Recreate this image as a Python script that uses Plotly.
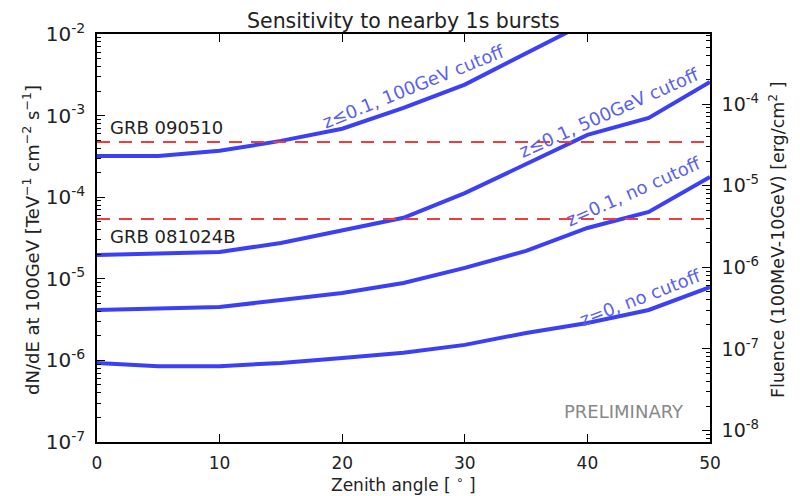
import plotly.graph_objects as go

zenith = [0, 5, 10, 15, 20, 25, 30, 35, 40, 45, 50]
z01_100gev = [3.2e-4, 3.2e-4, 3.7e-4, 4.9e-4, 6.9e-4, 1.24e-3, 2.4e-3, 5.7e-3, 1.4e-2, None, None]
z01_500gev = [1.96e-5, 2.05e-5, 2.13e-5, 2.75e-5, 3.96e-5, 5.6e-5, 1.12e-4, 2.55e-4, 5.8e-4, 9.35e-4, 2.58e-3]
z01_nocut = [4.15e-6, 4.3e-6, 4.5e-6, 5.5e-6, 6.7e-6, 8.9e-6, 1.36e-5, 2.2e-5, 4.2e-5, 6.6e-5, 1.77e-4]
z0_nocut = [9.3e-7, 8.5e-7, 8.5e-7, 9.3e-7, 1.07e-6, 1.24e-6, 1.55e-6, 2.17e-6, 2.87e-6, 4.15e-6, 7.9e-6]

grb_names = ["GRB 090510", "GRB 081024B"]
grb_levels = [4.74e-4, 5.4e-5]

curve_labels = ["z≤0.1, 100GeV cutoff", "z≤0.1, 500GeV cutoff", "z=0.1, no cutoff", "z=0, no cutoff"]
x_ticks = [0, 10, 20, 30, 40, 50]
left_ticks = [1e-7, 1e-6, 1e-5, 1e-4, 1e-3, 1e-2]
left_text = ["10<sup>-7</sup>", "10<sup>-6</sup>", "10<sup>-5</sup>", "10<sup>-4</sup>", "10<sup>-3</sup>", "10<sup>-2</sup>"]
right_ticks = [1e-8, 1e-7, 1e-6, 1e-5, 1e-4]
right_text = ["10<sup>-8</sup>", "10<sup>-7</sup>", "10<sup>-6</sup>", "10<sup>-5</sup>", "10<sup>-4</sup>"]

FONT = "DejaVu Sans"
LINE = "rgb(60,64,245)"
LABEL = "rgb(90,95,240)"
TXT = "#222"

# plot-area pixel box on screen (page has an 8px body margin)
PX0, PX1, PY0, PY1 = 97, 710, 34, 442


def px(x):
    return (x - PX0) / (PX1 - PX0)


def py(y):
    return (PY1 - y) / (PY1 - PY0)


def minor_vals(lo, hi):
    out = []
    for e in range(lo, hi):
        for m in range(2, 10):
            out.append(m * 10.0 ** e)
    return out


fig = go.Figure()
for ys in [z01_100gev, z01_500gev, z01_nocut, z0_nocut]:
    fig.add_trace(go.Scatter(x=zenith, y=ys, mode="lines",
                             line=dict(color=LINE, width=4), showlegend=False))
for lvl in grb_levels:
    fig.add_trace(go.Scatter(x=[0, 50], y=[lvl, lvl], mode="lines",
                             line=dict(color="rgb(240,60,60)", width=2, dash="13px,9px"),
                             showlegend=False))
fig.add_trace(go.Scatter(x=[0], y=[1e-6], yaxis="y2", mode="markers",
                         marker=dict(opacity=0), showlegend=False, hoverinfo="skip"))

axis_common = dict(showgrid=False, zeroline=False, showline=True, linecolor="black",
                   linewidth=1.5, ticks="inside", tickcolor="black", tickwidth=1.2,
                   automargin=False)

fig.update_layout(
    width=800, height=496, plot_bgcolor="white", paper_bgcolor="white",
    margin=dict(l=89, r=98, t=26, b=62),
    font=dict(family=FONT, color=TXT),
    xaxis=dict(range=[0, 50], tickvals=x_ticks, ticklen=8, mirror="ticks",
               ticklabelstandoff=5,
               tickfont=dict(family=FONT, size=17, color=TXT), **axis_common),
    yaxis=dict(type="log", range=[-7, -2], tickvals=left_ticks, ticktext=left_text, ticklen=8,
               ticklabelstandoff=6,
               tickfont=dict(family=FONT, size=20, color=TXT),
               minor=dict(tickmode="array", tickvals=minor_vals(-7, -2), ticks="inside",
                          ticklen=4, tickcolor="black", showgrid=False),
               **axis_common),
    yaxis2=dict(type="log", range=[-8.14, -3.14], overlaying="y", side="right",
                tickvals=right_ticks, ticktext=right_text, ticklen=8,
                ticklabelstandoff=6,
                tickfont=dict(family=FONT, size=19, color=TXT),
                minor=dict(tickmode="array", tickvals=minor_vals(-9, -3), ticks="inside",
                           ticklen=4, tickcolor="black", showgrid=False),
                **axis_common),
)

# titles
fig.add_annotation(x=px(403), y=py(21), xref="paper", yref="paper",
                   text="Sensitivity to nearby 1s bursts", showarrow=False,
                   xanchor="center", yanchor="middle",
                   font=dict(family=FONT, size=20.5, color=TXT))
fig.add_annotation(x=px(403), y=py(484), xref="paper", yref="paper",
                   text="Zenith angle [ <sup>∘</sup> ]", showarrow=False,
                   xanchor="center", yanchor="middle",
                   font=dict(family=FONT, size=17, color=TXT))
fig.add_annotation(x=px(31), y=py(240), xref="paper", yref="paper", textangle=-90,
                   text="dN/dE at 100GeV [TeV<sup>−1</sup> cm<sup>−2</sup> s<sup>−1</sup>]",
                   showarrow=False, xanchor="center", yanchor="middle",
                   font=dict(family=FONT, size=18, color=TXT))
fig.add_annotation(x=px(777), y=py(240), xref="paper", yref="paper", textangle=-90,
                   text="Fluence (100MeV-10GeV) [erg/cm<sup>2</sup> ]",
                   showarrow=False, xanchor="center", yanchor="middle",
                   font=dict(family=FONT, size=17.5, color=TXT))

label_pos = [(413, 86, -22), (609, 113, -24), (633, 192, -24), (640, 297, -21)]
for txt, (lx, ly, ang) in zip(curve_labels, label_pos):
    fig.add_annotation(x=px(lx), y=py(ly), xref="paper", yref="paper", text=txt,
                       showarrow=False, textangle=ang,
                       font=dict(family=FONT, size=18, color=LABEL),
                       xanchor="center", yanchor="middle")

grb_pix = [128, 236]
for name, gy in zip(grb_names, grb_pix):
    fig.add_annotation(x=px(108), y=py(gy), xref="paper", yref="paper",
                       text=name, showarrow=False, xanchor="left", yanchor="middle",
                       font=dict(family=FONT, size=18, color=TXT))

fig.add_annotation(x=px(624), y=py(411), xref="paper", yref="paper", text="PRELIMINARY",
                   showarrow=False, xanchor="center", yanchor="middle",
                   font=dict(family=FONT, size=18, color="#888"))

fig.write_html("out.html")
